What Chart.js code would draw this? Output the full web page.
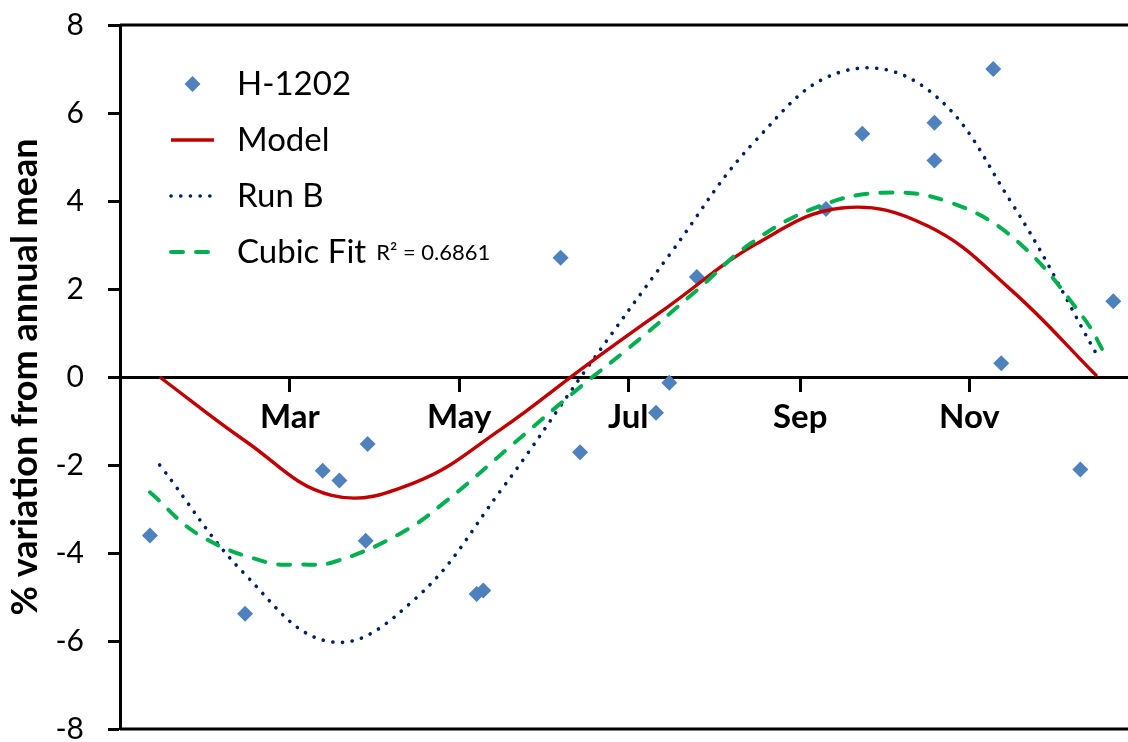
<!DOCTYPE html>
<html>
<head>
<meta charset="utf-8">
<title>Seasonal variation</title>
<script src="https://cdn.jsdelivr.net/npm/chart.js@4.4.1/dist/chart.umd.min.js"></script>
<style>
  html, body { margin: 0; padding: 0; background: #fff; overflow: hidden; }
  #wrap { width: 1128px; height: 742px; position: relative; }
</style>
</head>
<body>
<div id="wrap"><canvas id="seasonChart"></canvas></div>
<script>
// x values are day of year (0 = 1 Jan)
const monthTicks = [59, 120, 181, 243, 304];
const monthLabels = ['Mar', 'May', 'Jul', 'Sep', 'Nov'];

// H-1202 observations
const obsDays = [8.5, 42.8, 70.8, 76.8, 86.3, 87, 126.3, 128.7, 156.6, 163.6, 191, 195.8, 205.7, 252.3, 265.4, 291.4, 291.4, 312.6, 315.5, 344, 355.9];
const obsValues = [-3.60, -5.38, -2.13, -2.35, -3.72, -1.52, -4.93, -4.85, 2.71, -1.71, -0.81, -0.13, 2.27, 3.82, 5.53, 5.78, 4.92, 7.00, 0.31, -2.10, 1.72];

// monthly model output and run B
const modelDays = [12, 43, 74, 104, 135, 166, 196, 227, 258, 289, 319, 350];
const modelValues = [0.0, -1.46, -2.69, -2.40, -1.19, 0.27, 1.63, 3.02, 3.84, 3.43, 1.98, 0.02];
const runBValues = [-2.0, -4.50, -6.02, -5.05, -2.58, 0.19, 2.79, 5.38, 6.94, 6.53, 3.98, 0.5];

// cubic trend line through the observations
const fitDays = [8.5, 26.5, 50.6, 62.6, 74.5, 98.7, 115.5, 139.5, 163.6, 181.6, 205.7, 225, 249, 273, 297, 321, 345, 353.5];
const fitValues = [-2.62, -3.60, -4.21, -4.26, -4.21, -3.56, -2.81, -1.52, -0.23, 0.68, 1.97, 3.03, 3.86, 4.19, 3.97, 3.10, 1.36, 0.45];
const fitR2 = '0.6861';

const toPoints = (xs, ys) => xs.map((x, i) => ({ x: x, y: ys[i] }));

// top and bottom edges of the plot box
const frameLines = {
  id: 'frameLines',
  afterDraw(chart) {
    const { ctx, chartArea } = chart;
    ctx.save();
    ctx.strokeStyle = '#000';
    ctx.lineWidth = 3;
    ctx.beginPath();
    ctx.moveTo(chartArea.left, chartArea.top);
    ctx.lineTo(chartArea.right, chartArea.top);
    ctx.moveTo(chartArea.left, chartArea.bottom);
    ctx.lineTo(chartArea.right, chartArea.bottom);
    ctx.stroke();
    ctx.restore();
  }
};

// legend drawn inside the plot, top left
const insideLegend = {
  id: 'insideLegend',
  afterDraw(chart) {
    const { ctx, chartArea } = chart;
    const x0 = chartArea.left + 51;
    const x1 = chartArea.left + 94;
    const tx = chartArea.left + 117;
    chart.data.datasets.forEach((ds, i) => {
      const y = chartArea.top + 59 + i * 56;
      ctx.save();
      if (ds.showLine) {
        ctx.strokeStyle = ds.borderColor;
        ctx.lineWidth = ds.borderWidth;
        ctx.setLineDash(ds.borderDash || []);
        ctx.lineCap = ds.borderCapStyle || 'butt';
        ctx.beginPath();
        ctx.moveTo(x0, y);
        ctx.lineTo(x1, y);
        ctx.stroke();
      } else {
        const cx = (x0 + x1) / 2, r = ds.pointRadius;
        ctx.fillStyle = ds.backgroundColor;
        ctx.beginPath();
        ctx.moveTo(cx, y - r);
        ctx.lineTo(cx + r, y);
        ctx.lineTo(cx, y + r);
        ctx.lineTo(cx - r, y);
        ctx.closePath();
        ctx.fill();
      }
      ctx.setLineDash([]);
      ctx.fillStyle = '#000';
      ctx.font = '33px Lato';
      ctx.textBaseline = 'middle';
      ctx.fillText(ds.label, tx, y);
      if (ds.r2) {
        const w = ctx.measureText(ds.label).width;
        ctx.font = '22px Lato';
        ctx.fillText('R\u00b2 = ' + ds.r2, tx + w + 10, y + 1);
      }
      ctx.restore();
    });
  }
};

const ctx = document.getElementById('seasonChart').getContext('2d');
const seasonChart = new Chart(ctx, {
  type: 'scatter',
  data: {
    datasets: [
      {
        label: 'H-1202',
        data: toPoints(obsDays, obsValues),
        showLine: false,
        pointStyle: 'rectRot',
        pointRadius: 8,
        pointBorderWidth: 0,
        backgroundColor: '#4F81BD',
        borderColor: '#4F81BD',
        order: 3
      },
      {
        label: 'Model',
        data: toPoints(modelDays, modelValues),
        showLine: true,
        borderColor: '#C00000',
        borderWidth: 3.4,
        tension: 0.4,
        pointRadius: 0,
        order: 1
      },
      {
        label: 'Run B',
        data: toPoints(modelDays, runBValues),
        showLine: true,
        borderColor: '#002060',
        borderWidth: 3.6,
        borderDash: [0.1, 9.6],
        borderCapStyle: 'round',
        tension: 0.4,
        pointRadius: 0,
        order: 2
      },
      {
        label: 'Cubic Fit',
        r2: fitR2,
        data: toPoints(fitDays, fitValues),
        showLine: true,
        borderColor: '#00B050',
        borderWidth: 4,
        borderDash: [12, 13],
        borderCapStyle: 'round',
        tension: 0.4,
        pointRadius: 0,
        order: 0
      }
    ]
  },
  options: {
    responsive: true,
    maintainAspectRatio: false,
    animation: false,
    devicePixelRatio: 1,
    layout: { autoPadding: false, padding: { top: 25, bottom: 13, left: 0, right: 0 } },
    plugins: {
      legend: { display: false },
      tooltip: { enabled: false }
    },
    scales: {
      x: {
        type: 'linear',
        position: { y: 0 },
        min: -2.3,
        max: 361.2,
        afterBuildTicks: (scale) => {
          scale.ticks = monthTicks.map(v => ({ value: v }));
        },
        afterFit: (scale) => {
          scale.paddingLeft = 0;
          scale.paddingRight = 0;
        },
        ticks: {
          color: '#000',
          font: { family: 'Lato', size: 33, weight: 'bold' },
          padding: 8,
          maxRotation: 0,
          autoSkip: false,
          callback: (value) => monthLabels[monthTicks.indexOf(value)]
        },
        grid: {
          drawOnChartArea: false,
          drawTicks: true,
          tickLength: 13,
          tickWidth: 3,
          tickColor: '#000'
        },
        border: { display: true, color: '#000', width: 3 }
      },
      y: {
        min: -8,
        max: 8,
        afterFit: (scale) => {
          scale.width = 120;
          scale.paddingTop = 0;
          scale.paddingBottom = 0;
        },
        ticks: {
          stepSize: 2,
          color: '#000',
          font: { family: 'Lato', size: 30 },
          padding: 24
        },
        grid: {
          drawOnChartArea: false,
          drawTicks: true,
          tickLength: 12,
          tickWidth: 3,
          tickColor: '#000'
        },
        border: { display: true, color: '#000', width: 3 },
        title: {
          display: true,
          text: '% variation from annual mean',
          color: '#000',
          font: { family: 'Lato', size: 36, weight: 'bold' },
          padding: { top: 4, bottom: 0 }
        }
      }
    }
  },
  plugins: [frameLines, insideLegend]
});
</script>
</body>
</html>
